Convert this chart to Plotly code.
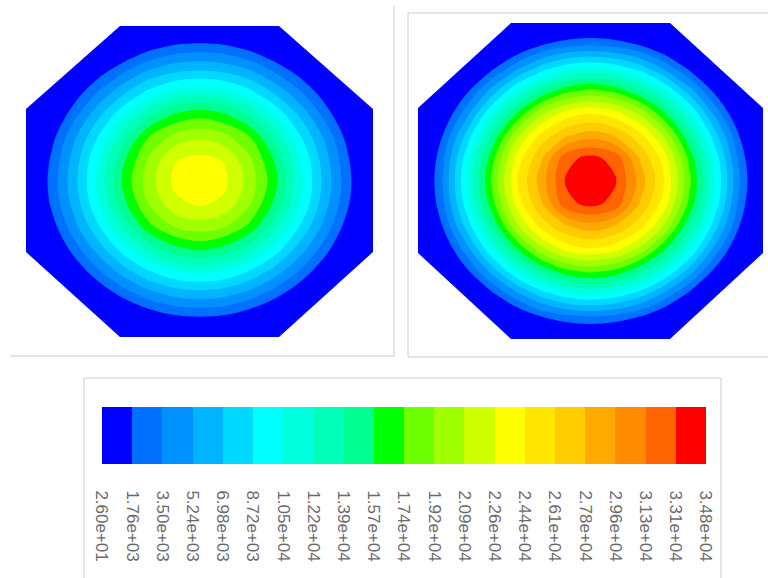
import plotly.graph_objects as go

# Contour level labels and band colours
tick_labels = ["2.60e+01","1.76e+03","3.50e+03","5.24e+03","6.98e+03","8.72e+03","1.05e+04",
               "1.22e+04","1.39e+04","1.57e+04","1.74e+04","1.92e+04","2.09e+04","2.26e+04",
               "2.44e+04","2.61e+04","2.78e+04","2.96e+04","3.13e+04","3.31e+04","3.48e+04"]
band_colors = ["#0000ff","#0070ff","#0090ff","#00b4ff","#00d8ff","#00ffff","#00ffdc","#00ffb8",
               "#00ff90","#00ff00","#70ff00","#a0ff00","#d0ff00","#ffff00","#ffe600","#ffcc00",
               "#ffaa00","#ff8c00","#ff6400","#ff0000"]
band_mid = [9,27,44,62,79,97,114,131,149,166,183,201,218,235,253,270,287,305,322,340]
band_pos = [i + 0.5 for i in range(20)]

left_x = [26,51,76,100,125,150,175,200,224,249,274,299,323,348,373]
left_y = [26,48,70,93,115,137,159,182,204,226,248,270,293,315,337]
left_z = [
 [-152,-121,-92,-66,-46,-30,-20,-17,-20,-30,-46,-66,-92,-121,-152],
 [-121,-87,-55,-28,-5,13,24,27,24,13,-5,-28,-55,-87,-121],
 [-93,-57,-22,8,32,53,65,69,65,53,32,8,-22,-57,-93],
 [-68,-28,9,40,69,95,112,118,112,95,69,40,9,-28,-68],
 [-48,-6,32,68,104,137,160,169,160,137,104,68,32,-6,-48],
 [-34,10,52,91,135,176,198,206,198,176,135,91,52,10,-34],
 [-25,20,63,107,156,196,225,231,225,196,156,107,63,20,-25],
 [-22,24,67,112,164,203,231,240,231,203,164,112,67,24,-22],
 [-25,20,62,106,154,194,222,229,222,194,154,106,62,20,-25],
 [-36,8,50,88,131,171,194,201,194,171,131,88,50,8,-36],
 [-51,-9,30,64,100,131,153,162,153,131,100,64,30,-9,-51],
 [-71,-32,5,36,65,89,106,112,106,89,65,36,5,-32,-71],
 [-97,-61,-27,3,28,48,60,64,60,48,28,3,-27,-61,-97],
 [-127,-91,-60,-34,-10,7,18,21,18,7,-10,-34,-60,-91,-127],
 [-155,-124,-96,-72,-51,-36,-26,-23,-26,-36,-51,-72,-96,-124,-155],
]
right_x = [418,443,467,492,517,541,566,590,615,640,664,689,714,738,763]
right_y = [23,46,68,91,113,136,158,181,204,226,249,271,294,316,339]
right_z = [
 [-178,-140,-107,-77,-53,-35,-23,-19,-23,-35,-53,-77,-107,-140,-178],
 [-140,-99,-63,-30,-2,19,32,37,32,19,-2,-30,-63,-99,-140],
 [-107,-63,-24,13,48,77,98,105,98,79,49,13,-24,-63,-107],
 [-77,-30,14,60,106,141,169,179,170,142,108,62,14,-30,-77],
 [-53,-3,46,104,157,204,233,242,233,205,159,107,49,-3,-53],
 [-34,19,77,141,206,250,277,289,278,251,208,143,80,21,-34],
 [-23,32,97,167,233,276,325,336,325,277,236,170,100,34,-23],
 [-19,37,104,177,243,287,333,352,333,289,245,180,107,40,-19],
 [-23,32,97,167,233,276,325,336,325,277,236,170,100,34,-23],
 [-34,19,77,141,206,250,277,289,278,251,208,143,80,21,-34],
 [-53,-3,46,104,157,204,233,242,233,205,159,107,49,-3,-53],
 [-77,-30,14,60,106,141,169,179,170,142,108,62,14,-30,-77],
 [-107,-63,-24,13,48,77,98,105,98,79,49,13,-24,-63,-107],
 [-140,-99,-63,-30,-2,19,32,37,32,19,-2,-30,-63,-99,-140],
 [-178,-140,-107,-77,-53,-35,-23,-19,-23,-35,-53,-77,-107,-140,-178],
]

scale = []
for i, c in enumerate(band_colors):
    scale += [[i / 20, c], [(i + 1) / 20, c]]

W, H = 768, 578
fig = go.Figure()
for xs, ys, zs in [(left_x, left_y, left_z), (right_x, right_y, right_z)]:
    fig.add_trace(go.Contour(
        x=xs, y=ys, z=zs, zmin=0.26, zmax=348, colorscale=scale, showscale=False,
        contours=dict(start=17.66, end=330.86, size=17.4, coloring="fill", showlines=False),
        line=dict(width=0, smoothing=1.0), hoverinfo="skip"))
fig.add_trace(go.Heatmap(
    x=band_pos, y=[0], z=[band_mid], zmin=0.26, zmax=348, colorscale=scale, showscale=False,
    xaxis="x2", yaxis="y2", hoverinfo="skip"))

def poly(*pts):
    d = "M" + "L".join(f"{a},{b}" for a, b in pts) + "Z"
    return dict(type="path", path=d, fillcolor="white", line=dict(width=0), layer="above")

def seg(x0, y0, x1, y1, color="#dcdcdc"):
    return dict(type="line", x0=x0, y0=y0, x1=x1, y1=y1, line=dict(color=color, width=1.5), layer="below")

shapes = []
for l, r, t, b, tl, tr, sl, sh in [(26,373,26,337,120,279,109,252), (418,763,23,339,511,670,108,253)]:
    m = 3
    shapes += [
        poly((l-m,t-m),(tl,t-m),(tl,t),(l,sl),(l-m,sl)),
        poly((r+m,t-m),(tr,t-m),(tr,t),(r,sl),(r+m,sl)),
        poly((l-m,b+m),(tl,b+m),(tl,b),(l,sh),(l-m,sh)),
        poly((r+m,b+m),(tr,b+m),(tr,b),(r,sh),(r+m,sh)),
    ]
shapes += [seg(10,356,394,356), seg(394,6,394,356),
           seg(408,13,408,357), seg(408,13,768,13), seg(408,357,768,357),
           seg(84,378,721,378), seg(84,378,84,578), seg(721,378,721,578)]

fig.update_layout(
    width=W, height=H, margin=dict(l=0, r=0, t=0, b=0, pad=0, autoexpand=False),
    paper_bgcolor="white", plot_bgcolor="rgba(0,0,0,0)",
    showlegend=False, shapes=shapes,
    xaxis=dict(range=[0, W], domain=[0, 1], visible=False, fixedrange=True),
    yaxis=dict(range=[H, 0], domain=[0, 1], visible=False, fixedrange=True),
    xaxis2=dict(range=[0, 20], domain=[102 / W, 706 / W], anchor="y2",
                tickmode="array", tickvals=list(range(21)), ticktext=tick_labels, tickangle=90,
                ticks="outside", ticklen=22, tickcolor="rgba(0,0,0,0)", showgrid=False, showline=False, zeroline=False,
                automargin=False,
                tickfont=dict(family="Liberation Sans", size=17, color="#6a6a6a")),
    yaxis2=dict(range=[-0.5, 0.5], domain=[1 - 464 / H, 1 - 407 / H], anchor="x2", visible=False),
)
fig.write_html("out.html", config={"displayModeBar": False},
               post_script="document.body.style.margin='0';document.body.style.overflow='hidden';")
